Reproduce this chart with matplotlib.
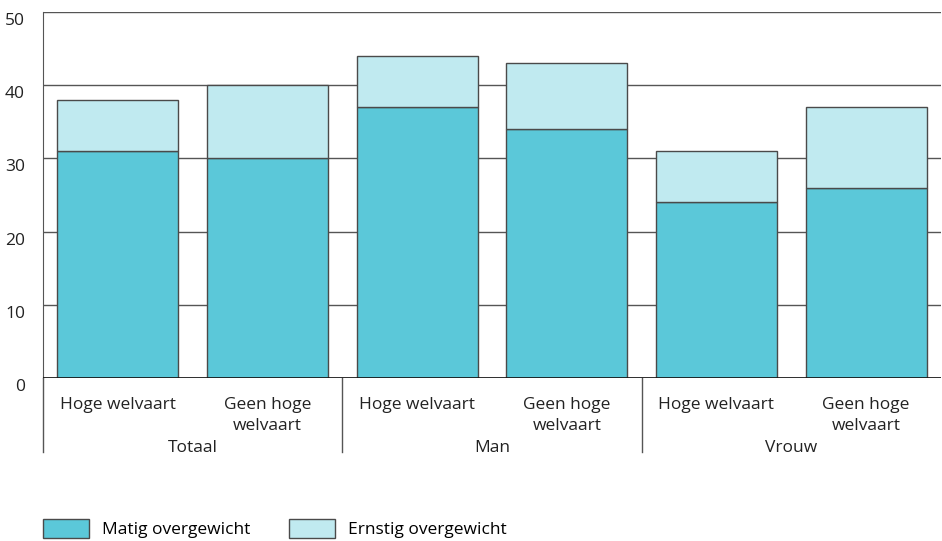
import numpy as np
import matplotlib.pyplot as plt
from matplotlib.patches import Patch
import matplotlib.transforms as mtransforms

plt.rcParams['font.family'] = ['Open Sans', 'DejaVu Sans']

groups = ["Totaal", "Man", "Vrouw"]
categories = ["Hoge welvaart", "Geen hoge\nwelvaart"] * 3
matig = [31, 30, 37, 34, 24, 26]
ernstig = [7, 10, 7, 9, 7, 11]

col_matig = "#5bc8d9"
col_ernstig = "#c0eaf0"
edge = "#4a4a4a"
fs = 12.5

fig = plt.figure(figsize=(9.42, 5.41), dpi=100)
ax = fig.add_axes([43 / 942, 1 - 378 / 541, 898 / 942, 366 / 541])

x = np.arange(len(matig))
ax.bar(x, matig, width=0.81, color=col_matig, edgecolor=edge, linewidth=1, zorder=3)
ax.bar(x, ernstig, bottom=matig, width=0.81, color=col_ernstig, edgecolor=edge,
       linewidth=1, zorder=3)

ax.set_xlim(-0.5, 5.5)
ax.set_ylim(0, 50)
ax.set_yticks(range(0, 51, 10))
ax.yaxis.grid(True, color="#555555", linewidth=1, zorder=0)
ax.set_axisbelow(True)
for s in ["top", "right", "bottom"]:
    ax.spines[s].set_visible(False)
ax.spines["left"].set_color("#555555")
ax.axhline(0, color="#111111", linewidth=1.2, zorder=4)
ax.tick_params(axis="y", length=0, pad=13, labelsize=fs, labelcolor="#222222")
ax.tick_params(axis="x", length=0)
ax.set_xticks([])
# tick labels sit a little below their grid line
offset = mtransforms.ScaledTranslation(0, -7 / 100, fig.dpi_scale_trans)
for lbl in ax.get_yticklabels():
    lbl.set_transform(lbl.get_transform() + offset)

trans = ax.get_xaxis_transform()
drop = -(452 - 378) / 366
for xi, lab in zip(x, categories):
    ax.text(xi, -19 / 366, lab, transform=trans, ha="center", va="top",
            fontsize=fs, color="#222222", linespacing=1.45)
for gi, g in enumerate(groups):
    ax.text(2 * gi + 0.5, -62 / 366, g, transform=trans, ha="center", va="top",
            fontsize=fs, color="#222222")
for xb in [-0.5, 1.5, 3.5]:
    ax.plot([xb, xb], [0, drop], transform=trans, color="#555555", linewidth=1,
            clip_on=False)

handles = [Patch(facecolor=col_matig, edgecolor=edge, label="Matig overgewicht"),
           Patch(facecolor=col_ernstig, edgecolor=edge, label="Ernstig overgewicht")]
fig.legend(handles=handles, loc="lower left", bbox_to_anchor=(33 / 942, -0.014),
           ncol=2, frameon=False, fontsize=fs, handlelength=2.65, handleheight=1.27,
           handletextpad=0.75, columnspacing=2.2, borderaxespad=0.2)

fig.savefig("out.png", dpi=100)
